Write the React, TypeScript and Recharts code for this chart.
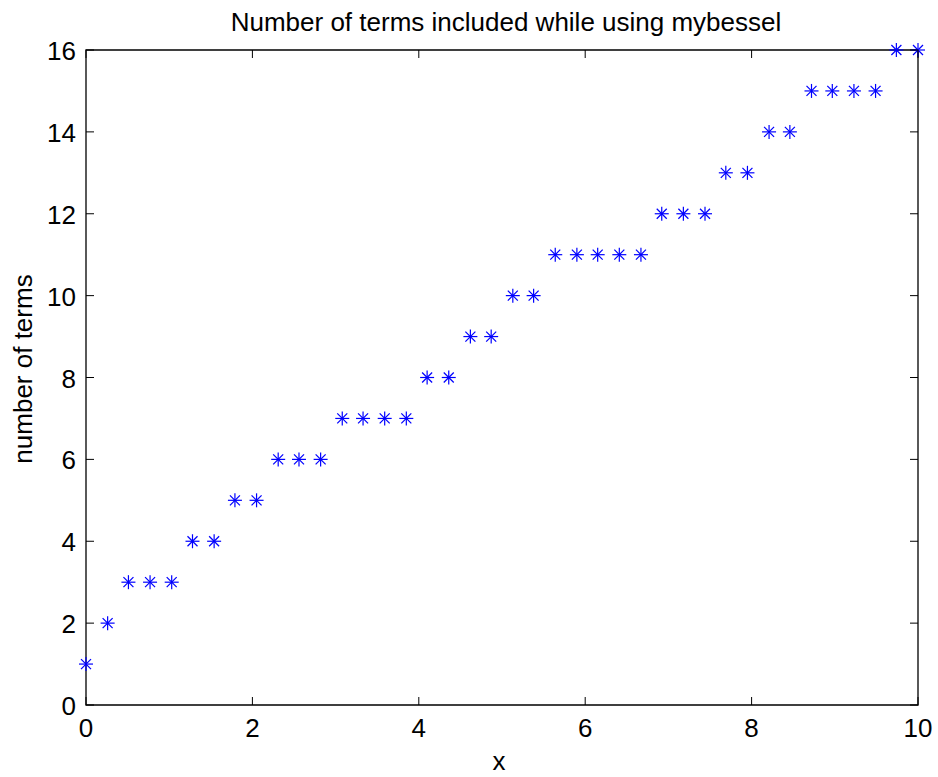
import React from "react";
import {
  ScatterChart,
  Scatter,
  XAxis,
  YAxis,
  ReferenceArea,
} from "recharts";

// x = points along [0, 10], y = terms used by mybessel
const xValues = [
  0, 0.26, 0.51, 0.77, 1.03, 1.28, 1.54, 1.79, 2.05, 2.31,
  2.56, 2.82, 3.08, 3.33, 3.59, 3.85, 4.1, 4.36, 4.62, 4.87,
  5.13, 5.38, 5.64, 5.9, 6.15, 6.41, 6.67, 6.92, 7.18, 7.44,
  7.69, 7.95, 8.21, 8.46, 8.72, 8.97, 9.23, 9.49, 9.74, 10,
];
const termCounts = [
  1, 2, 3, 3, 3, 4, 4, 5, 5, 6,
  6, 6, 7, 7, 7, 7, 8, 8, 9, 9,
  10, 10, 11, 11, 11, 11, 11, 12, 12, 12,
  13, 13, 14, 14, 15, 15, 15, 15, 16, 16,
];
const xTicks = [0, 2, 4, 6, 8, 10];
const yTicks = [0, 2, 4, 6, 8, 10, 12, 14, 16];

const data = xValues.map((x, i) => ({ x, terms: termCounts[i] }));

const W = 938;
const H = 777;
const M = { top: 50, right: 20, bottom: 72, left: 86 };
const plotTop = M.top;
const plotBottom = H - M.bottom;
const plotLeft = M.left;
const plotRight = W - M.right;
const TICK = 8;
const FONT = "Arial, 'Liberation Sans', Helvetica, sans-serif";
const FS = 26;

function Asterisk(props: any) {
  const { cx, cy } = props;
  if (cx == null || cy == null) return null;
  const r = 7;
  const d = 5;
  return (
    <g stroke="#0000ff" strokeWidth={1.2}>
      <line x1={cx - r} y1={cy} x2={cx + r} y2={cy} />
      <line x1={cx} y1={cy - r} x2={cx} y2={cy + r} />
      <line x1={cx - d} y1={cy - d} x2={cx + d} y2={cy + d} />
      <line x1={cx - d} y1={cy + d} x2={cx + d} y2={cy - d} />
    </g>
  );
}

function XTick(props: any) {
  const { x, payload } = props;
  return (
    <g>
      <line x1={x} x2={x} y1={plotBottom} y2={plotBottom - TICK} stroke="#000" />
      <line x1={x} x2={x} y1={plotTop} y2={plotTop + TICK} stroke="#000" />
      <text x={x} y={plotBottom + 32} textAnchor="middle" fontSize={FS} fontFamily={FONT} fill="#000">
        {payload.value}
      </text>
    </g>
  );
}

function YTick(props: any) {
  const { y, payload } = props;
  return (
    <g>
      <line x1={plotLeft} x2={plotLeft + TICK} y1={y} y2={y} stroke="#000" />
      <line x1={plotRight} x2={plotRight - TICK} y1={y} y2={y} stroke="#000" />
      <text x={plotLeft - 10} y={y + 10} textAnchor="end" fontSize={FS} fontFamily={FONT} fill="#000">
        {payload.value}
      </text>
    </g>
  );
}

export default function App() {
  const yLabelY = 369;
  return (
    <div style={{ position: "fixed", left: 0, top: 0, width: W, height: H, background: "#fff", overflow: "hidden" }}>
      <ScatterChart
        width={W}
        height={H}
        margin={{ top: M.top, right: M.right, bottom: 0, left: 0 }}
      >
        <XAxis
          type="number"
          dataKey="x"
          domain={[0, 10]}
          ticks={xTicks}
          height={M.bottom}
          tickLine={false}
          axisLine={false}
          tick={<XTick />}
          interval={0}
        />
        <YAxis
          type="number"
          dataKey="terms"
          domain={[0, 16]}
          ticks={yTicks}
          width={M.left}
          tickLine={false}
          axisLine={false}
          tick={<YTick />}
          interval={0}
        />
        <ReferenceArea
          x1={0}
          x2={10}
          y1={0}
          y2={16}
          fill="none"
          stroke="#000"
          strokeWidth={1.3}
          ifOverflow="extendDomain"
        />
        <Scatter
          data={data}
          dataKey="terms"
          shape={<Asterisk />}
          isAnimationActive={false}
        />
        <text x={506} y={31} textAnchor="middle" fontSize={FS} fontFamily={FONT} fill="#000">
          Number of terms included while using mybessel
        </text>
        <text x={499} y={770} textAnchor="middle" fontSize={FS} fontFamily={FONT} fill="#000">
          x
        </text>
        <text
          x={32}
          y={yLabelY}
          textAnchor="middle"
          fontSize={FS}
          fontFamily={FONT}
          fill="#000"
          transform={`rotate(-90, 32, ${yLabelY})`}
        >
          number of terms
        </text>
      </ScatterChart>
    </div>
  );
}
